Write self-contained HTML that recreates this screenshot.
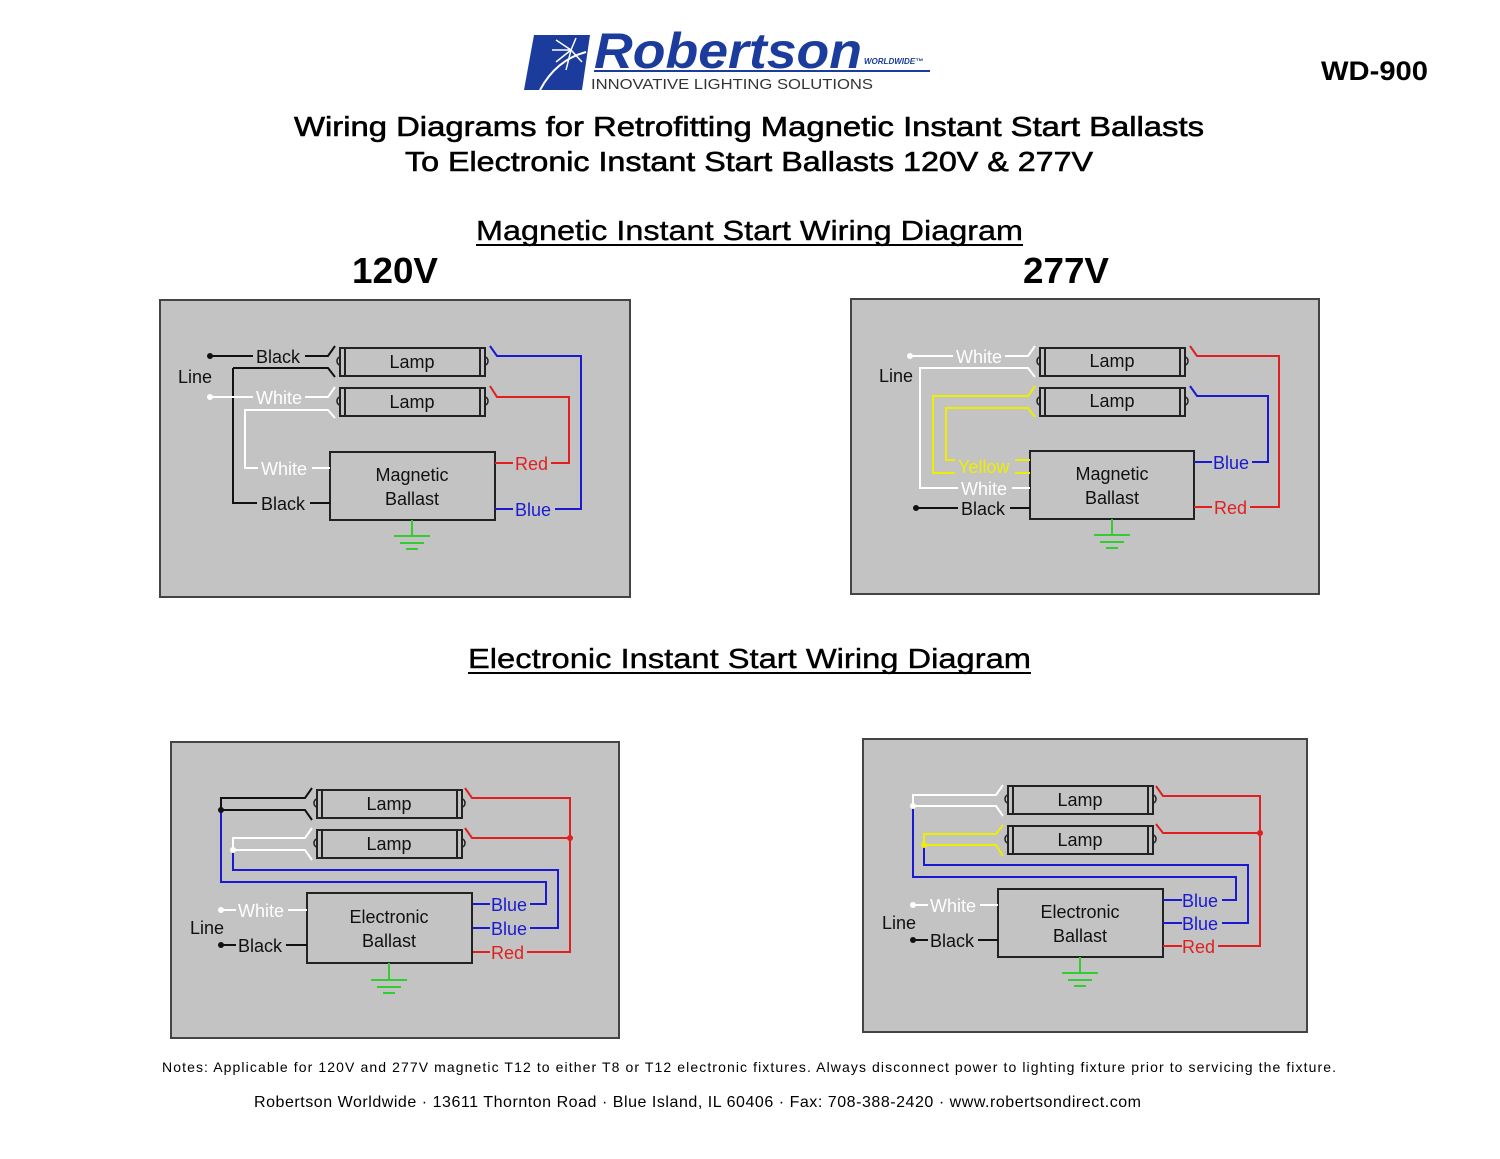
<!DOCTYPE html>
<html><head><meta charset="utf-8"><style>
html,body{margin:0;padding:0;background:#fff;}
svg{display:block;}
text{font-family:"Liberation Sans",Arial,sans-serif;}
</style></head><body>
<svg width="1500" height="1159" viewBox="0 0 1500 1159" xmlns="http://www.w3.org/2000/svg">
<rect width="1500" height="1159" fill="#fff"/>
<!-- Logo -->
<polygon points="534,35 590,35 582,90 524,90" fill="#1b3c9c"/>
<g stroke="#fff" stroke-width="1.5">
<line x1="571" y1="50" x2="556" y2="40"/><line x1="571" y1="50" x2="552" y2="50"/><line x1="571" y1="50" x2="556" y2="62"/><line x1="571" y1="50" x2="566" y2="70"/><line x1="571" y1="50" x2="576" y2="38"/><line x1="571" y1="50" x2="582" y2="62"/>
</g>
<path d="M540,90 Q556,60 586,52" stroke="#fff" stroke-width="2" fill="none"/>
<text x="594" y="68" font-size="50" font-weight="bold" font-style="italic" fill="#1b3c9c" textLength="268" lengthAdjust="spacingAndGlyphs">Robertson</text>
<text x="864" y="64" font-size="8" font-weight="bold" font-style="italic" fill="#1b3c9c">WORLDWIDE™</text>
<line x1="594" y1="71" x2="930" y2="71" stroke="#1b3c9c" stroke-width="2"/>
<text x="591" y="89" font-size="15" fill="#333" textLength="282" lengthAdjust="spacingAndGlyphs">INNOVATIVE LIGHTING SOLUTIONS</text>
<text x="1321" y="80" font-size="27" font-weight="bold" fill="#000" textLength="107" lengthAdjust="spacingAndGlyphs">WD-900</text>
<!-- titles -->
<text x="294" y="136" font-size="28" fill="#000" stroke="#000" stroke-width="0.6" textLength="910" lengthAdjust="spacingAndGlyphs">Wiring Diagrams for Retrofitting Magnetic Instant Start Ballasts</text>
<text x="405" y="171" font-size="28" fill="#000" stroke="#000" stroke-width="0.6" textLength="688" lengthAdjust="spacingAndGlyphs">To Electronic Instant Start Ballasts 120V &amp; 277V</text>
<text x="476" y="240" font-size="28" fill="#000" stroke="#000" stroke-width="0.4" textLength="547" lengthAdjust="spacingAndGlyphs">Magnetic Instant Start Wiring Diagram</text>
<line x1="476" y1="245" x2="1023" y2="245" stroke="#000" stroke-width="2"/>
<text x="352" y="283" font-size="36" font-weight="bold" fill="#000" textLength="86" lengthAdjust="spacingAndGlyphs">120V</text>
<text x="1023" y="283" font-size="36" font-weight="bold" fill="#000" textLength="86" lengthAdjust="spacingAndGlyphs">277V</text>
<text x="468" y="668" font-size="28" fill="#000" stroke="#000" stroke-width="0.4" textLength="563" lengthAdjust="spacingAndGlyphs">Electronic Instant Start Wiring Diagram</text>
<line x1="468" y1="673" x2="1031" y2="673" stroke="#000" stroke-width="2"/>

<g fill="none" stroke-width="2">
<!-- Panel 1 -->
<rect x="160" y="300" width="470" height="297" fill="#c3c3c3" stroke="#444"/>
<rect x="340" y="348" width="145" height="28" stroke="#222"/><line x1="345" y1="348" x2="345" y2="376" stroke="#222"/><line x1="480" y1="348" x2="480" y2="376" stroke="#222"/>
<rect x="340" y="388" width="145" height="28" stroke="#222"/><line x1="345" y1="388" x2="345" y2="416" stroke="#222"/><line x1="480" y1="388" x2="480" y2="416" stroke="#222"/>
<rect x="330" y="452" width="165" height="68" stroke="#222"/>
<path d="M305,356 H328 L335,346 M233,368 H328 L335,377 M233,368 V503 H257 M310,503 H330" stroke="#111"/>
<path d="M305,397 H328 L335,387 M335,418 L328,410 H245 V468 H258 M312,468 H330" stroke="#fff"/>
<path d="M210,397 H253" stroke="#fff"/><path d="M210,356 H253" stroke="#111"/>
<path d="M490,346 L497,356 H581 V509 H555 M513,509 H495" stroke="#1a1ad0"/>
<path d="M490,386 L497,397 H569 V463 H551 M513,463 H495" stroke="#e02020"/>
<path d="M412,520 V536 M394,536 H430 M400,543 H424 M406,549 H418" stroke="#3c3"/>
<!-- Panel 2 -->
<rect x="851" y="299" width="468" height="295" fill="#c3c3c3" stroke="#444"/>
<rect x="1040" y="348" width="145" height="28" stroke="#222"/><line x1="1045" y1="348" x2="1045" y2="376" stroke="#222"/><line x1="1180" y1="348" x2="1180" y2="376" stroke="#222"/>
<rect x="1040" y="388" width="145" height="28" stroke="#222"/><line x1="1045" y1="388" x2="1045" y2="416" stroke="#222"/><line x1="1180" y1="388" x2="1180" y2="416" stroke="#222"/>
<rect x="1030" y="451" width="164" height="68" stroke="#222"/>
<path d="M910,356 H953 M1005,356 H1028 L1035,346 M1035,377 L1028,368 H920 V488 H958 M1012,488 H1030" stroke="#fff"/>
<path d="M1035,386 L1028,396 H933 V473 H955 M1035,417 L1028,408 H946 V460 H955 M1015,460 H1030 M1015,473 H1030" stroke="#ee0"/>
<path d="M916,508 H958 M1010,508 H1030" stroke="#111"/>
<path d="M1190,346 L1197,356 H1279 V507 H1250 M1212,507 H1194" stroke="#e02020"/>
<path d="M1190,386 L1197,396 H1268 V462 H1252 M1212,462 H1194" stroke="#1a1ad0"/>
<path d="M1112,519 V535 M1094,535 H1130 M1100,542 H1124 M1106,548 H1118" stroke="#3c3"/>
<!-- Panel 3 -->
<rect x="171" y="742" width="448" height="296" fill="#c3c3c3" stroke="#444"/>
<rect x="317" y="790" width="145" height="28" stroke="#222"/><line x1="322" y1="790" x2="322" y2="818" stroke="#222"/><line x1="457" y1="790" x2="457" y2="818" stroke="#222"/>
<rect x="317" y="830" width="145" height="28" stroke="#222"/><line x1="322" y1="830" x2="322" y2="858" stroke="#222"/><line x1="457" y1="830" x2="457" y2="858" stroke="#222"/>
<rect x="307" y="893" width="165" height="70" stroke="#222"/>
<path d="M312,788 L305,798 H221 V810 H305 L312,820" stroke="#111"/>
<path d="M312,828 L305,838 H233 V850 H305 L312,860" stroke="#fff"/>
<path d="M221,810 V882 H546 V904 H530 M490,904 H473" stroke="#1a1ad0"/>
<path d="M233,850 V870 H558 V928 H530 M490,928 H473" stroke="#1a1ad0"/>
<path d="M465,788 L472,798 H570 V952 H527 M490,952 H473 M465,828 L472,838 H570" stroke="#e02020"/>
<path d="M221,910 H236 M288,910 H307" stroke="#fff"/><path d="M221,945 H236 M286,945 H307" stroke="#111"/>
<path d="M389,963 V980 M371,980 H407 M377,987 H401 M383,993 H395" stroke="#3c3"/>
<!-- Panel 4 -->
<rect x="863" y="739" width="444" height="293" fill="#c3c3c3" stroke="#444"/>
<rect x="1008" y="786" width="145" height="28" stroke="#222"/><line x1="1013" y1="786" x2="1013" y2="814" stroke="#222"/><line x1="1148" y1="786" x2="1148" y2="814" stroke="#222"/>
<rect x="1008" y="826" width="145" height="28" stroke="#222"/><line x1="1013" y1="826" x2="1013" y2="854" stroke="#222"/><line x1="1148" y1="826" x2="1148" y2="854" stroke="#222"/>
<rect x="998" y="889" width="165" height="68" stroke="#222"/>
<path d="M1003,785 L996,795 H913 V806 H996 L1003,816" stroke="#fff"/>
<path d="M1003,825 L996,834 H924 V845 H996 L1003,856" stroke="#ee0"/>
<path d="M913,806 V877 H1236 V900 H1222 M1182,900 H1163" stroke="#1a1ad0"/>
<path d="M924,845 V865 H1248 V923 H1222 M1182,923 H1163" stroke="#1a1ad0"/>
<path d="M1156,786 L1163,796 H1260 V946 H1218 M1182,946 H1163 M1156,824 L1163,833 H1260" stroke="#e02020"/>
<path d="M913,905 H928 M980,905 H998" stroke="#fff"/><path d="M913,940 H928 M978,940 H998" stroke="#111"/>
<path d="M1080,957 V973 M1062,973 H1098 M1068,980 H1092 M1074,986 H1086" stroke="#3c3"/>
</g>
<!-- pins -->
<g fill="none" stroke="#222" stroke-width="1.5">
<path d="M340,357 a3,4 0 0 0 0,8 M340,397 a3,4 0 0 0 0,8 M485,357 a3,4 0 0 1 0,8 M485,397 a3,4 0 0 1 0,8"/>
<path d="M1040,357 a3,4 0 0 0 0,8 M1040,397 a3,4 0 0 0 0,8 M1185,357 a3,4 0 0 1 0,8 M1185,397 a3,4 0 0 1 0,8"/>
<path d="M317,799 a3,4 0 0 0 0,8 M317,839 a3,4 0 0 0 0,8 M462,799 a3,4 0 0 1 0,8 M462,839 a3,4 0 0 1 0,8"/>
<path d="M1008,795 a3,4 0 0 0 0,8 M1008,835 a3,4 0 0 0 0,8 M1153,795 a3,4 0 0 1 0,8 M1153,835 a3,4 0 0 1 0,8"/>
</g>
<!-- dots -->
<circle cx="210" cy="356" r="3" fill="#111"/><circle cx="210" cy="397" r="3" fill="#fff"/>
<circle cx="910" cy="356" r="3" fill="#fff"/><circle cx="916" cy="508" r="3" fill="#111"/>
<circle cx="221" cy="810" r="3" fill="#111"/><circle cx="233" cy="850" r="3" fill="#fff"/><circle cx="570" cy="838" r="3" fill="#e02020"/>
<circle cx="221" cy="910" r="3" fill="#fff"/><circle cx="221" cy="945" r="3" fill="#111"/>
<circle cx="913" cy="806" r="3" fill="#fff"/><circle cx="924" cy="845" r="3" fill="#ee0"/><circle cx="1260" cy="833" r="3" fill="#e02020"/>
<circle cx="913" cy="905" r="3" fill="#fff"/><circle cx="913" cy="940" r="3" fill="#111"/>
<!-- labels -->
<g font-size="18" fill="#111">
<text x="412" y="368" text-anchor="middle">Lamp</text><text x="412" y="408" text-anchor="middle">Lamp</text>
<text x="412" y="481" text-anchor="middle">Magnetic</text><text x="412" y="505" text-anchor="middle">Ballast</text>
<text x="178" y="383">Line</text><text x="256" y="363">Black</text><text x="261" y="510">Black</text>
<text x="256" y="404" fill="#fff">White</text><text x="261" y="475" fill="#fff">White</text>
<text x="515" y="470" fill="#e02020">Red</text><text x="515" y="516" fill="#1a1ad0">Blue</text>

<text x="1112" y="367" text-anchor="middle">Lamp</text><text x="1112" y="407" text-anchor="middle">Lamp</text>
<text x="1112" y="480" text-anchor="middle">Magnetic</text><text x="1112" y="504" text-anchor="middle">Ballast</text>
<text x="879" y="382">Line</text><text x="956" y="363" fill="#fff">White</text><text x="961" y="495" fill="#fff">White</text>
<text x="958" y="473" fill="#ee0">Yellow</text><text x="961" y="515">Black</text>
<text x="1213" y="469" fill="#1a1ad0">Blue</text><text x="1214" y="514" fill="#e02020">Red</text>

<text x="389" y="810" text-anchor="middle">Lamp</text><text x="389" y="850" text-anchor="middle">Lamp</text>
<text x="389" y="923" text-anchor="middle">Electronic</text><text x="389" y="947" text-anchor="middle">Ballast</text>
<text x="190" y="934">Line</text><text x="238" y="917" fill="#fff">White</text><text x="238" y="952">Black</text>
<text x="491" y="911" fill="#1a1ad0">Blue</text><text x="491" y="935" fill="#1a1ad0">Blue</text><text x="491" y="959" fill="#e02020">Red</text>

<text x="1080" y="806" text-anchor="middle">Lamp</text><text x="1080" y="846" text-anchor="middle">Lamp</text>
<text x="1080" y="918" text-anchor="middle">Electronic</text><text x="1080" y="942" text-anchor="middle">Ballast</text>
<text x="882" y="929">Line</text><text x="930" y="912" fill="#fff">White</text><text x="930" y="947">Black</text>
<text x="1182" y="907" fill="#1a1ad0">Blue</text><text x="1182" y="930" fill="#1a1ad0">Blue</text><text x="1182" y="953" fill="#e02020">Red</text>
</g>
<text x="162" y="1072" font-size="14" fill="#000" textLength="1174" lengthAdjust="spacing">Notes:  Applicable for 120V and 277V magnetic T12 to either T8 or T12 electronic fixtures.  Always disconnect power to lighting fixture prior to servicing the fixture.</text>
<text x="254" y="1107" font-size="16" fill="#000" textLength="887" lengthAdjust="spacing">Robertson Worldwide · 13611 Thornton Road · Blue Island, IL 60406 · Fax: 708-388-2420 · www.robertsondirect.com</text>
</svg>
</body></html>
